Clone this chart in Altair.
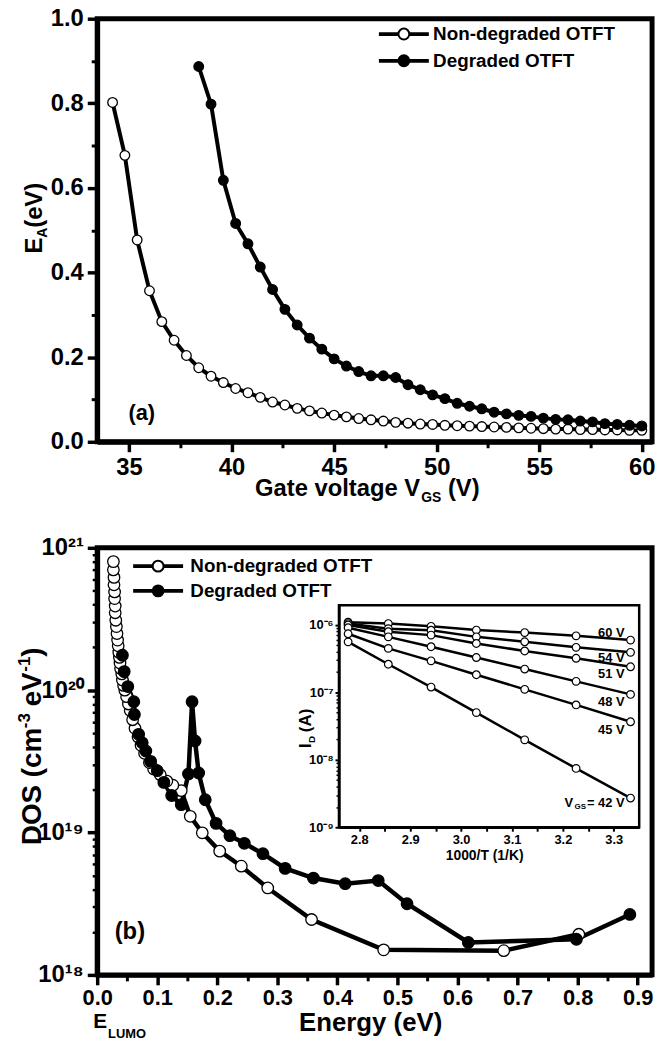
import altair as alt
import pandas as pd

FONT = "Liberation Sans"
SERIES = ["Non-degraded OTFT", "Degraded OTFT"]
FILLS = ["white", "black"]
LEGEND_SYMBOL = ("M-4.4,-0.16L-1,-0.16L-1,0.16L-4.4,0.16Z"
                 "M1,-0.16L4.4,-0.16L4.4,0.16L1,0.16Z"
                 "M-1,0A1,1 0 1,0 1,0A1,1 0 1,0 -1,0Z")

# ---------------- panel (a): activation energy vs gate voltage ----------------
a_open_vgs = [34.2, 34.8, 35.4, 36.0, 36.6, 37.2, 37.8, 38.4, 39.0, 39.6, 40.2, 40.8,
              41.4, 42.0, 42.6, 43.2, 43.8, 44.4, 45.0, 45.6, 46.2, 46.8, 47.4, 48.0,
              48.6, 49.2, 49.8, 50.4, 51.0, 51.6, 52.2, 52.8, 53.4, 54.0, 54.6, 55.2,
              55.8, 56.4, 57.0, 57.6, 58.2, 58.8, 59.4, 60.0]
a_open_ea = [0.802, 0.677, 0.477, 0.357, 0.284, 0.240, 0.204, 0.175, 0.155, 0.140, 0.126, 0.116,
             0.105, 0.094, 0.087, 0.079, 0.073, 0.068, 0.063, 0.059, 0.055, 0.052, 0.049, 0.046,
             0.044, 0.042, 0.041, 0.039, 0.038, 0.037, 0.036, 0.035, 0.034, 0.033, 0.032, 0.031,
             0.030, 0.030, 0.029, 0.029, 0.028, 0.028, 0.027, 0.027]
a_deg_vgs = [38.4, 39.0, 39.6, 40.2, 40.8, 41.4, 42.0, 42.6, 43.2, 43.8, 44.4, 45.0,
             45.6, 46.2, 46.8, 47.4, 48.0, 48.6, 49.2, 49.8, 50.4, 51.0, 51.6, 52.2,
             52.8, 53.4, 54.0, 54.6, 55.2, 55.8, 56.4, 57.0, 57.6, 58.2, 58.8, 59.4, 60.0]
a_deg_ea = [0.887, 0.798, 0.618, 0.516, 0.468, 0.413, 0.360, 0.313, 0.276, 0.245, 0.219, 0.196,
            0.179, 0.166, 0.156, 0.156, 0.152, 0.135, 0.123, 0.111, 0.102, 0.091, 0.084, 0.078,
            0.070, 0.066, 0.0625, 0.060, 0.056, 0.053, 0.052, 0.049, 0.047, 0.043, 0.041, 0.039, 0.0375]

a_x_ticks = [35, 40, 45, 50, 55, 60]
a_x_minor = [37.5, 42.5, 47.5, 52.5, 57.5]
a_y_ticks = [0.0, 0.2, 0.4, 0.6, 0.8, 1.0]
a_y_minor = [0.1, 0.3, 0.5, 0.7, 0.9]

# ---------------- panel (b): density of states vs energy ----------------
b_open_energy = [0.802, 0.677, 0.477, 0.357, 0.284, 0.240, 0.204, 0.175, 0.155, 0.140, 0.126, 0.116,
                 0.105, 0.094, 0.087, 0.079, 0.073, 0.068, 0.063, 0.059, 0.055, 0.052, 0.049, 0.046,
                 0.044, 0.042, 0.041, 0.039, 0.038, 0.037, 0.036, 0.035, 0.034, 0.033, 0.032, 0.031,
                 0.030, 0.030, 0.029, 0.029, 0.028, 0.028, 0.027, 0.027]
b_open_dos = [1.93e18, 1.48e18, 1.50e18, 2.45e18, 4.08e18, 5.8e18, 7.4e18, 9.96e18, 1.30e19, 1.97e19,
              2.15e19, 2.30e19, 2.55e19, 2.8e19, 3.1e19, 3.6e19, 4.1e19, 4.7e19, 5.4e19, 6.2e19,
              7.2e19, 8.0e19, 9.0e19, 1.0e20, 1.08e20, 1.18e20, 1.3e20, 1.42e20, 1.55e20, 1.7e20,
              1.85e20, 2.05e20, 2.25e20, 2.5e20, 2.8e20, 3.1e20, 3.5e20, 3.9e20, 4.4e20, 4.9e20,
              5.5e20, 6.2e20, 7.0e20, 8.0e20]
b_deg_energy = [0.887, 0.798, 0.618, 0.516, 0.468, 0.413, 0.360, 0.313, 0.276, 0.245, 0.221, 0.198,
                0.180, 0.169, 0.163, 0.158, 0.152, 0.140, 0.124, 0.111, 0.100, 0.089, 0.081, 0.075,
                0.069, 0.062, 0.061, 0.051, 0.045, 0.042]
b_deg_dos = [2.66e18, 1.78e18, 1.69e18, 3.16e18, 4.6e18, 4.37e18, 4.79e18, 5.6e18, 7.1e18, 8.4e18,
             9.5e18, 1.16e19, 1.70e19, 2.62e19, 4.4e19, 8.3e19, 2.58e19, 1.57e19, 1.82e19, 2.25e19,
             2.72e19, 3.16e19, 3.74e19, 4.27e19, 4.9e19, 6.75e19, 8.3e19, 1.06e20, 1.35e20, 1.76e20]

b_x_ticks = [0.0, 0.1, 0.2, 0.3, 0.4, 0.5, 0.6, 0.7, 0.8, 0.9]
b_x_minor = [0.05, 0.15, 0.25, 0.35, 0.45, 0.55, 0.65, 0.75, 0.85]
b_y_ticks = [1e18, 1e19, 1e20, 1e21]
b_y_labels = ["10¹⁸", "10¹⁹", "10²⁰", "10²¹"]
b_y_minor = [2e18, 3e18, 4e18, 5e18, 6e18, 7e18, 8e18, 9e18,
             2e19, 3e19, 4e19, 5e19, 6e19, 7e19, 8e19, 9e19,
             2e20, 3e20, 4e20, 5e20, 6e20, 7e20, 8e20, 9e20]

# ---------------- inset: I_D vs 1000/T ----------------
inset_invT = [2.778, 2.857, 2.941, 3.030, 3.125, 3.226, 3.333]
inset_vgs = ["60 V", "54 V", "51 V", "48 V", "45 V", "42 V"]
inset_id_60 = [1.10e-6, 1.05e-6, 9.55e-7, 8.41e-7, 7.71e-7, 6.90e-7, 5.97e-7]
inset_id_54 = [1.05e-6, 8.83e-7, 8.36e-7, 6.67e-7, 5.64e-7, 4.66e-7, 3.93e-7]
inset_id_51 = [1.00e-6, 7.94e-7, 7.08e-7, 5.32e-7, 4.12e-7, 3.21e-7, 2.40e-7]
inset_id_48 = [9.12e-7, 6.67e-7, 4.76e-7, 3.29e-7, 2.22e-7, 1.46e-7, 9.35e-8]
inset_id_45 = [7.41e-7, 4.50e-7, 2.94e-7, 1.83e-7, 1.11e-7, 6.52e-8, 3.67e-8]
inset_id_42 = [5.62e-7, 2.62e-7, 1.20e-7, 5.02e-8, 1.98e-8, 7.46e-9, 2.71e-9]
inset_x_ticks = [2.8, 2.9, 3.0, 3.1, 3.2, 3.3]
inset_x_minor = [2.85, 2.95, 3.05, 3.15, 3.25]
inset_y_ticks = [1e-9, 1e-8, 1e-7, 1e-6]
inset_y_labels = ["10⁻⁹", "10⁻⁸", "10⁻⁷", "10⁻⁶"]
inset_y_minor = [2e-9, 3e-9, 4e-9, 5e-9, 6e-9, 7e-9, 8e-9, 9e-9,
                 2e-8, 3e-8, 4e-8, 5e-8, 6e-8, 7e-8, 8e-8, 9e-8,
                 2e-7, 3e-7, 4e-7, 5e-7, 6e-7, 7e-7, 8e-7, 9e-7]
inset_frame = {"x1": [2.76], "x2": [3.35], "y1": [1e-9], "y2": [1.96e-6]}
inset_label_dy = [-7, 6, 7, 8, 8, 5]


def log_label_expr(values, labels):
    expr = "''"
    for v, lab in zip(values, labels):
        expr = f"abs(log(datum.value) - log({v!r})) < 0.01 ? '{lab}' : ({expr})"
    return expr


def major_axis(values, orient, fmt=None, expr=None, size=24, tick=10, tickw=3.5,
               domw=5, pad=4, offset=None, zindex=None):
    kw = dict(values=values, orient=orient, title=None, grid=False, labelFont=FONT,
              labelFontSize=size, labelFontWeight="bold", labelColor="black",
              tickSize=tick, tickWidth=tickw, tickColor="black", domainWidth=domw,
              domainColor="black", labelPadding=pad, labelFlush=False, labelOverlap=False)
    if fmt:
        kw["format"] = fmt
    if expr:
        kw["labelExpr"] = expr
    if offset is not None:
        kw["offset"] = offset
    if zindex is not None:
        kw["zindex"] = zindex
    return alt.Axis(**kw)


def minor_axis(values, orient, tick=6, tickw=3, offset=None, zindex=None):
    kw = dict(values=values, orient=orient, title=None, grid=False, labels=False,
              domain=False, tickSize=tick, tickWidth=tickw, tickColor="black")
    if offset is not None:
        kw["offset"] = offset
    if zindex is not None:
        kw["zindex"] = zindex
    return alt.Axis(**kw)


def label(text, x, y, size, angle=None, align="left", baseline="alphabetic"):
    kw = dict(font=FONT, fontSize=size, fontWeight="bold", color="black",
              align=align, baseline=baseline)
    if angle is not None:
        kw["angle"] = angle
    return alt.Chart(pd.DataFrame({"t": [text]})).mark_text(**kw).encode(
        text="t:N", x=alt.value(x), y=alt.value(y))


def legend(lx, ly, offset, rowpad):
    return alt.Legend(title=None, orient="none", legendX=lx, legendY=ly,
                      symbolType=LEGEND_SYMBOL, symbolSize=121, symbolStrokeWidth=2,
                      symbolStrokeColor="black", labelFont=FONT, labelFontSize=19,
                      labelFontWeight="bold", labelColor="black", labelOffset=offset,
                      labelLimit=400, rowPadding=rowpad, padding=0)


# ================= panel (a) =================
df_a = pd.DataFrame({
    "V": a_open_vgs + a_deg_vgs,
    "EA": a_open_ea + a_deg_ea,
    "series": [SERIES[0]] * len(a_open_vgs) + [SERIES[1]] * len(a_deg_vgs),
    "idx": list(range(len(a_open_vgs))) + list(range(len(a_deg_vgs))),
})
xa = alt.Scale(domain=[33.45, 60.5], nice=False, zero=False)
ya = alt.Scale(domain=[0, 1], nice=False, zero=False)

a_lines = alt.Chart(df_a).mark_line(color="black", strokeWidth=4).encode(
    x=alt.X("V:Q", scale=xa, axis=major_axis(a_x_ticks, "bottom", fmt="d")),
    y=alt.Y("EA:Q", scale=ya, axis=major_axis(a_y_ticks, "left", fmt=".1f")),
    detail="series:N", order="idx:Q")
a_pts = alt.Chart(df_a).mark_point(filled=True, size=94, shape="circle", stroke="black",
                                   strokeWidth=1.3, opacity=1).encode(
    x=alt.X("V:Q", scale=xa, axis=None),
    y=alt.Y("EA:Q", scale=ya, axis=None),
    fill=alt.Fill("series:N", scale=alt.Scale(domain=SERIES, range=FILLS),
                  legend=legend(300, 6, 20, 7)))
a_minor = alt.Chart(df_a).mark_point(opacity=0).encode(
    x=alt.X("V:Q", scale=xa, axis=minor_axis(a_x_minor, "bottom")),
    y=alt.Y("EA:Q", scale=ya, axis=minor_axis(a_y_minor, "left")))

a_texts = [
    label("(a)", 45, 398, 22, align="center", baseline="middle"),
    label("Gate voltage V", 326, 482, 24, align="right"),
    label("GS", 327, 488, 14),
    label("(V)", 354, 482, 24),
    label("E", -56, 237, 24, angle=270),
    label("A", -51, 221, 14, angle=270),
    label("(eV)", -56, 211, 24, angle=270),
]

panel_a = alt.layer(a_lines, a_pts, a_minor, *a_texts).resolve_scale(
    x="independent", y="independent").resolve_axis(
    x="independent", y="independent").properties(width=560, height=427)

# ================= panel (b) =================
df_b = pd.DataFrame({
    "E": b_open_energy + b_deg_energy,
    "DOS": b_open_dos + b_deg_dos,
    "curve": [SERIES[0]] * len(b_open_energy) + [SERIES[1]] * len(b_deg_energy),
    "idx": list(range(len(b_open_energy))) + list(range(len(b_deg_energy))),
})
xb = alt.Scale(domain=[0, 0.924], nice=False, zero=False)
yb = alt.Scale(type="log", domain=[1e18, 1e21], nice=False)

b_lines = alt.Chart(df_b).mark_line(color="black", strokeWidth=4.5).encode(
    x=alt.X("E:Q", scale=xb, axis=major_axis(b_x_ticks, "bottom", fmt=".1f", size=22, pad=3)),
    y=alt.Y("DOS:Q", scale=yb, axis=major_axis(b_y_ticks, "left",
                                                expr=log_label_expr(b_y_ticks, b_y_labels))),
    detail="curve:N", order="idx:Q")
b_pts = alt.Chart(df_b).mark_point(filled=True, size=135, shape="circle", stroke="black",
                                   strokeWidth=1.3, opacity=1).encode(
    x=alt.X("E:Q", scale=xb, axis=None),
    y=alt.Y("DOS:Q", scale=yb, axis=None),
    fill=alt.Fill("curve:N", scale=alt.Scale(domain=SERIES, range=FILLS),
                  legend=legend(52, 9, 23, 5)))
b_minor = alt.Chart(df_b).mark_point(opacity=0).encode(
    x=alt.X("E:Q", scale=xb, axis=minor_axis(b_x_minor, "bottom")),
    y=alt.Y("DOS:Q", scale=yb, axis=minor_axis(b_y_minor, "left", tick=5, tickw=2.5)))

# inset
rows = []
for name, vals in zip(inset_vgs, [inset_id_60, inset_id_54, inset_id_51,
                                  inset_id_48, inset_id_45, inset_id_42]):
    for t, v in zip(inset_invT, vals):
        rows.append({"invT": t, "ID": v, "vgs": name})
df_in = pd.DataFrame(rows)
xi = alt.Scale(domain=[2.76, 3.35], range=[244, 547], nice=False, zero=False)
yi = alt.Scale(type="log", domain=[1e-9, 1.96e-6], range=[282, 58], nice=False)

in_frame = alt.Chart(pd.DataFrame(inset_frame)).mark_rect(
    fill="white", stroke="black", strokeWidth=2.5).encode(
    x=alt.X("x1:Q", scale=xi, axis=None), x2="x2:Q",
    y=alt.Y("y1:Q", scale=yi, axis=None), y2="y2:Q")
in_lines = alt.Chart(df_in).mark_line(color="black", strokeWidth=2.5).encode(
    x=alt.X("invT:Q", scale=xi,
            axis=major_axis(inset_x_ticks, "bottom", fmt=".1f", size=13, tick=4, tickw=2,
                            domw=2.5, pad=2, offset=-149, zindex=1)),
    y=alt.Y("ID:Q", scale=yi,
            axis=major_axis(inset_y_ticks, "left", size=13, tick=4, tickw=2, domw=2.5, pad=2,
                            expr=log_label_expr(inset_y_ticks, inset_y_labels),
                            offset=-244, zindex=1)),
    detail="vgs:N", order="invT:Q")
in_pts = alt.Chart(df_in).mark_point(filled=True, size=60, shape="circle", fill="white",
                                     stroke="black", strokeWidth=1.2, opacity=1).encode(
    x=alt.X("invT:Q", scale=xi, axis=None),
    y=alt.Y("ID:Q", scale=yi, axis=None))
in_minor = alt.Chart(df_in).mark_point(opacity=0).encode(
    x=alt.X("invT:Q", scale=xi, axis=minor_axis(inset_x_minor, "bottom", tick=4, tickw=2,
                                                 offset=-149, zindex=1)),
    y=alt.Y("ID:Q", scale=yi, axis=minor_axis(inset_y_minor, "left", tick=3, tickw=1.5,
                                               offset=-244, zindex=1)))

in_labels = []
for name, vals, dy in zip(inset_vgs, [inset_id_60, inset_id_54, inset_id_51,
                                      inset_id_48, inset_id_45, inset_id_42], inset_label_dy):
    last = pd.DataFrame({"invT": [inset_invT[-1]], "ID": [vals[-1]]})
    if name == inset_vgs[-1]:
        parts = [("= " + name, -6, dy, 13), ("GS", -45, dy + 4, 8), ("V", -58, dy, 13)]
    else:
        parts = [(name, -6, dy, 13)]
    for txt, dx, ddy, fs in parts:
        in_labels.append(alt.Chart(last).mark_text(
            text=txt, font=FONT, fontSize=fs, fontWeight="bold", color="black",
            align="right", baseline="middle", dx=dx, dy=ddy).encode(
            x=alt.X("invT:Q", scale=xi, axis=None),
            y=alt.Y("ID:Q", scale=yi, axis=None)))

b_texts = [
    label("(b)", 33, 388, 24, align="center", baseline="middle"),
    # y title "DOS (cm-3 eV-1)" built from pieces so the superscripts can be raised
    label("DOS (cm", -57, 300, 28, angle=270),
    label("-3", -68, 182, 17, angle=270),
    label("eV", -57, 160, 28, angle=270),
    label("-1", -68, 125, 17, angle=270),
    label(")", -57, 110, 28, angle=270),
    label("Energy (eV)", 276, 488, 26, align="center"),
    label("E", -4, 485, 21),
    label("LUMO", 11, 495, 13),
    label("1000/T (1/K)", 391, 311, 14, align="center", baseline="middle"),
    label("I", 216, 202, 17, angle=270),
    label("D", 220, 197, 10, angle=270),
    label("(A)", 216, 186, 17, angle=270),
]

panel_b = alt.layer(b_lines, b_pts, b_minor, in_frame, in_lines, in_pts, in_minor,
                    *in_labels, *b_texts).resolve_scale(
    x="independent", y="independent").resolve_axis(
    x="independent", y="independent").properties(width=560, height=431)

chart = alt.vconcat(panel_a, panel_b, spacing=25).resolve_scale(
    fill="independent").resolve_legend(fill="independent").properties(
    padding={"left": 5, "right": 2, "top": -9, "bottom": 0}
).configure_view(stroke="black", strokeWidth=5).configure_axis(labelFlush=False)

chart.save("out.html", embed_options={"renderer": "svg", "actions": False})
